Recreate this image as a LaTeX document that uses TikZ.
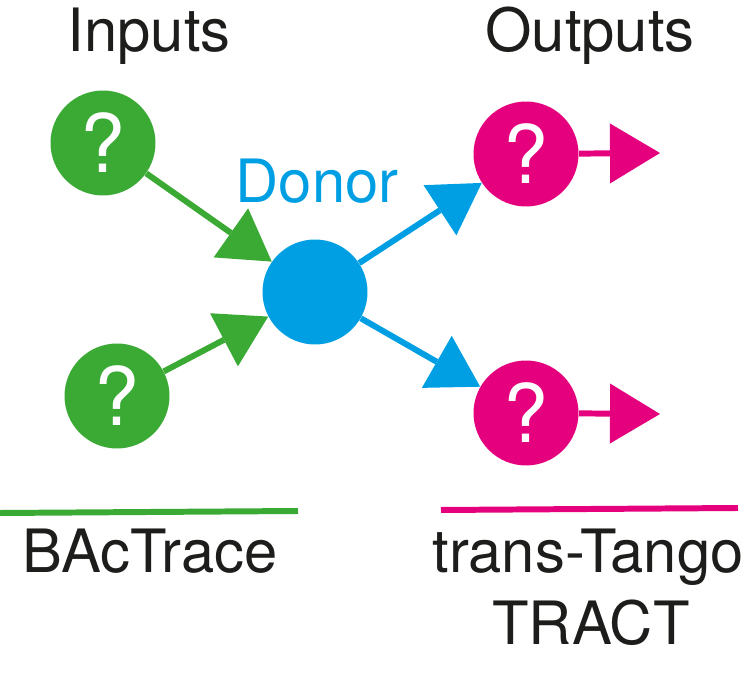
\documentclass[tikz,border=0pt]{standalone}
\usepackage{fontspec}
\setmainfont{TeX Gyre Heros}
\usepackage{xcolor}
\usepackage{tikz}
\usetikzlibrary{arrows.meta}
\definecolor{ingreen}{HTML}{3AAA35}
\definecolor{donorblue}{HTML}{009FE3}
\definecolor{outpink}{HTML}{E5007D}
\definecolor{inkblack}{HTML}{1D1D1B}

\begin{document}
\begin{tikzpicture}[x=0.02cm,y=-0.02cm,
		cell/.style={circle,inner sep=0pt,minimum size=2.1cm,text=white,font=\fontsize{46}{50}\selectfont},
		heading/.style={anchor=base,inner sep=0pt,text=inkblack,font=\fontsize{34}{40}\selectfont},
		link/.style={line width=3.4pt,-{Triangle[length=1cm,width=1.2cm,line width=0pt]}}]
		\useasboundingbox (0,0) rectangle (752,675);

		% neurons
		\node[cell,fill=ingreen] (in1) at (103,143) {?};
		\node[cell,fill=ingreen] (in2) at (117,396) {?};
		\node[cell,fill=donorblue] (donor) at (315,292) {};
		\node[cell,fill=outpink] (out1) at (526,154) {?};
		\node[cell,fill=outpink] (out2) at (526,413) {?};
		\coordinate (end1) at (660,153);
		\coordinate (end2) at (660,414);

		% connections
		\draw[link,ingreen] (in1) -- (donor);
		\draw[link,ingreen] (in2) -- (donor);
		\draw[link,donorblue] (donor) -- (out1);
		\draw[link,donorblue] (donor) -- (out2);
		\draw[link,outpink] (out1) -- (end1);
		\draw[link,outpink] (out2) -- (end2);

		% labels
		\node[heading] (inputs) at (149,52) {Inputs};
		\node[heading] (outputs) at (590,52) {Outputs};
		\node[heading,text=donorblue] (donorlabel) at (317,203) {Donor};
		\draw[ingreen,line width=3.4pt] (0,513) -- (298,511);
		\draw[outpink,line width=3.4pt] (441,510) -- (738,508);
		\node[heading] (bactrace) at (150,573) {BAcTrace};
		\node[heading] (tango) at (588,573) {trans-Tango};
		\node[heading] (tract) at (591,645) {TRACT};
	\end{tikzpicture}
\end{document}
